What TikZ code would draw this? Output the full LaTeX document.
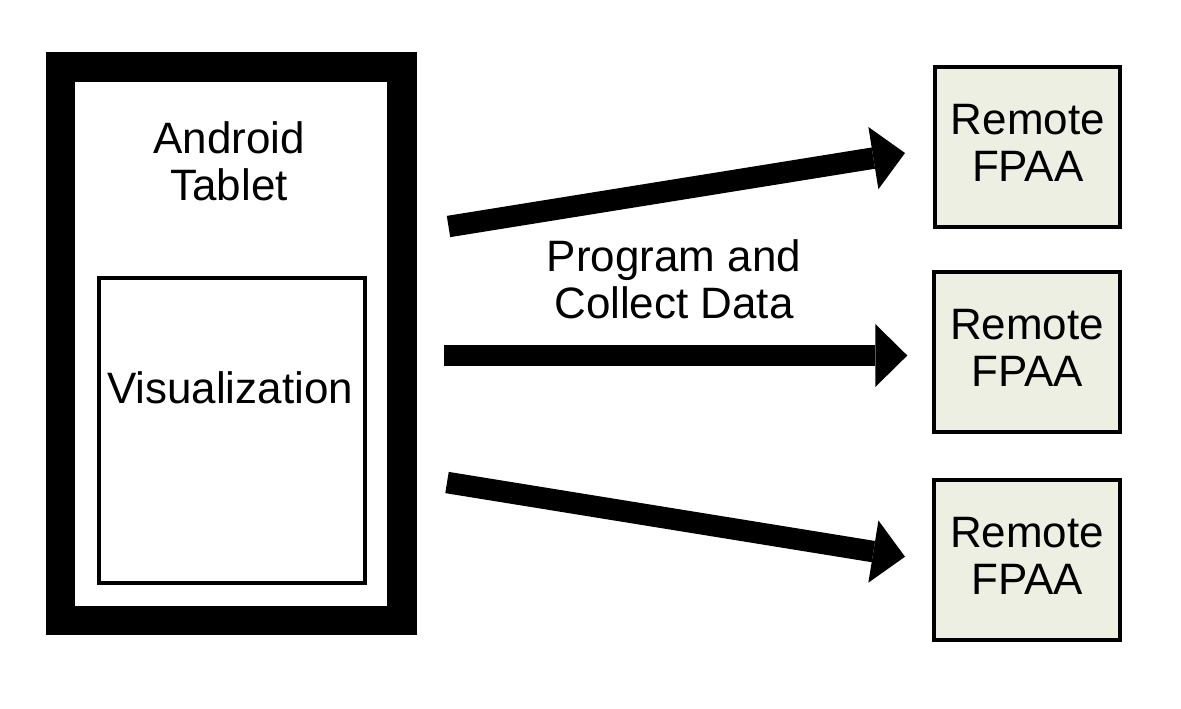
\documentclass[tikz,border=0pt]{standalone}
\usepackage{fontspec}
\setmainfont{Liberation Sans}
\usetikzlibrary{arrows.meta}
\definecolor{fpaafill}{RGB}{238,239,227}
\begin{document}
\begin{tikzpicture}[x=0.01cm,y=-0.01cm,
  lbl/.style={font=\fontsize{12.5pt}{13.3pt}\selectfont, align=center, inner sep=0pt},
  tabletbox/.style={draw=black, line width=0.293cm, fill=white, minimum width=3.413cm, minimum height=5.53cm, inner sep=0pt},
  visbox/.style={draw=black, line width=0.04cm, fill=white, minimum width=2.654cm, minimum height=3.056cm, inner sep=0pt},
  fpaa/.style={draw=black, line width=0.04cm, fill=fpaafill, minimum width=1.852cm, minimum height=1.60cm, inner sep=0pt, text depth=0.08cm, font=\fontsize{12.5pt}{13.3pt}\selectfont, align=center},
  bigarrow/.style={line width=0.215cm, line cap=butt, -{Triangle[length=0.32cm,width=0.63cm,line width=0pt]}}
]
\useasboundingbox (0,0) rectangle (1181,708);
% tablet
\node[tabletbox] (tablet) at (231.2,343.5) {};
\node[lbl] (title) at (229,161) {Android\\Tablet};
\node[visbox] (vis) at (232,430.5) {};
\node[lbl] (vistext) at (230,388) {Visualization};
% remote FPAA boxes
\node[fpaa] (f1) at (1027.8,147.2) {Remote\\FPAA};
\node[fpaa] (f2) at (1027,352) {Remote\\FPAA};
\node[fpaa] (f3) at (1027,560) {Remote\\FPAA};
% arrows
\coordinate (s1) at (448.5,226.5);
\coordinate (e1) at (905,153);
\coordinate (s2) at (444.3,355.5);
\coordinate (e2) at (907.3,355.5);
\coordinate (s3) at (447,482.5);
\coordinate (e3) at (905,556.7);
\draw[bigarrow] (s1) -- (e1);
\draw[bigarrow] (s2) -- (e2);
\draw[bigarrow] (s3) -- (e3);
\node[lbl] (prog) at (674,279) {Program and\\Collect Data};
\end{tikzpicture}
\end{document}
